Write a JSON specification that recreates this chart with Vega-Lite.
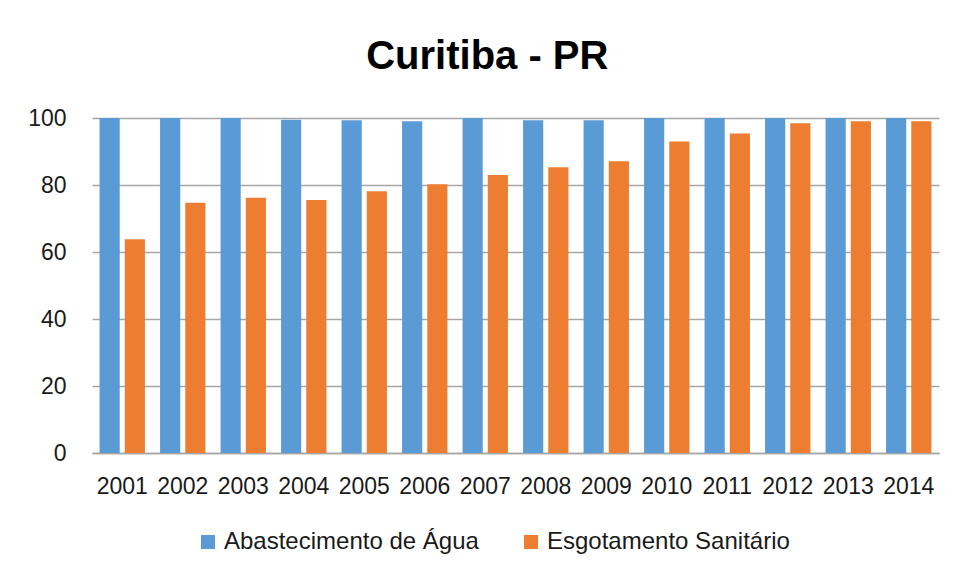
{
  "$schema": "https://vega.github.io/schema/vega-lite/v6.json",
  "autosize": {"type": "none"},
  "width": 847,
  "height": 335,
  "padding": {"left": 92, "top": 118, "right": 19, "bottom": 124},
  "background": "white",
  "title": {
    "text": "Curitiba - PR",
    "font": "Liberation Sans",
    "fontSize": 40,
    "fontWeight": "bold",
    "color": "#000000",
    "anchor": "middle",
    "frame": "bounds",
    "offset": 30,
    "dx": 4
  },
  "data": {
    "values": [
      {"ano": "2001", "serie": "Abastecimento de Água", "valor": 100},
      {"ano": "2001", "serie": "Esgotamento Sanitário", "valor": 63.8},
      {"ano": "2002", "serie": "Abastecimento de Água", "valor": 100},
      {"ano": "2002", "serie": "Esgotamento Sanitário", "valor": 74.7},
      {"ano": "2003", "serie": "Abastecimento de Água", "valor": 100},
      {"ano": "2003", "serie": "Esgotamento Sanitário", "valor": 76.2},
      {"ano": "2004", "serie": "Abastecimento de Água", "valor": 99.5},
      {"ano": "2004", "serie": "Esgotamento Sanitário", "valor": 75.5},
      {"ano": "2005", "serie": "Abastecimento de Água", "valor": 99.3},
      {"ano": "2005", "serie": "Esgotamento Sanitário", "valor": 78.1},
      {"ano": "2006", "serie": "Abastecimento de Água", "valor": 99.0},
      {"ano": "2006", "serie": "Esgotamento Sanitário", "valor": 80.2},
      {"ano": "2007", "serie": "Abastecimento de Água", "valor": 100},
      {"ano": "2007", "serie": "Esgotamento Sanitário", "valor": 83.0},
      {"ano": "2008", "serie": "Abastecimento de Água", "valor": 99.3},
      {"ano": "2008", "serie": "Esgotamento Sanitário", "valor": 85.3},
      {"ano": "2009", "serie": "Abastecimento de Água", "valor": 99.3},
      {"ano": "2009", "serie": "Esgotamento Sanitário", "valor": 87.1},
      {"ano": "2010", "serie": "Abastecimento de Água", "valor": 100},
      {"ano": "2010", "serie": "Esgotamento Sanitário", "valor": 93.0},
      {"ano": "2011", "serie": "Abastecimento de Água", "valor": 100},
      {"ano": "2011", "serie": "Esgotamento Sanitário", "valor": 95.4},
      {"ano": "2012", "serie": "Abastecimento de Água", "valor": 100},
      {"ano": "2012", "serie": "Esgotamento Sanitário", "valor": 98.4},
      {"ano": "2013", "serie": "Abastecimento de Água", "valor": 100},
      {"ano": "2013", "serie": "Esgotamento Sanitário", "valor": 99.0},
      {"ano": "2014", "serie": "Abastecimento de Água", "valor": 100},
      {"ano": "2014", "serie": "Esgotamento Sanitário", "valor": 99.0}
    ]
  },
  "mark": {"type": "bar"},
  "encoding": {
    "x": {
      "field": "ano",
      "type": "nominal",
      "title": null,
      "scale": {"paddingInner": 0.25, "paddingOuter": 0.125},
      "axis": {
        "labelAngle": 0,
        "labelFont": "Liberation Sans",
        "labelFontSize": 23,
        "labelColor": "#1a1a1a",
        "labelPadding": 22,
        "ticks": false,
        "domain": true,
        "domainColor": "#a6a6a6",
        "domainWidth": 1.3
      }
    },
    "xOffset": {
      "field": "serie",
      "type": "nominal",
      "scale": {"paddingInner": 0.2, "paddingOuter": 0}
    },
    "y": {
      "field": "valor",
      "type": "quantitative",
      "title": null,
      "scale": {"domain": [0, 100], "nice": false},
      "axis": {
        "values": [0, 20, 40, 60, 80, 100],
        "labelFont": "Liberation Sans",
        "labelFontSize": 23,
        "labelColor": "#1a1a1a",
        "labelPadding": 26,
        "ticks": false,
        "domain": false,
        "grid": true,
        "gridColor": "#a6a6a6",
        "gridWidth": 1.3
      }
    },
    "color": {
      "field": "serie",
      "type": "nominal",
      "scale": {
        "domain": ["Abastecimento de Água", "Esgotamento Sanitário"],
        "range": ["#5B9BD5", "#ED7D31"]
      },
      "legend": {
        "title": null,
        "orient": "none",
        "legendX": 104,
        "legendY": 412,
        "direction": "horizontal",
        "symbolType": "square",
        "symbolSize": 196,
        "symbolStrokeWidth": 0,
        "labelFont": "Liberation Sans",
        "labelFontSize": 24,
        "labelColor": "#1a1a1a",
        "labelOffset": 4,
        "columnPadding": 40,
        "labelLimit": 400
      }
    }
  },
  "config": {
    "view": {"stroke": null}
  }
}
